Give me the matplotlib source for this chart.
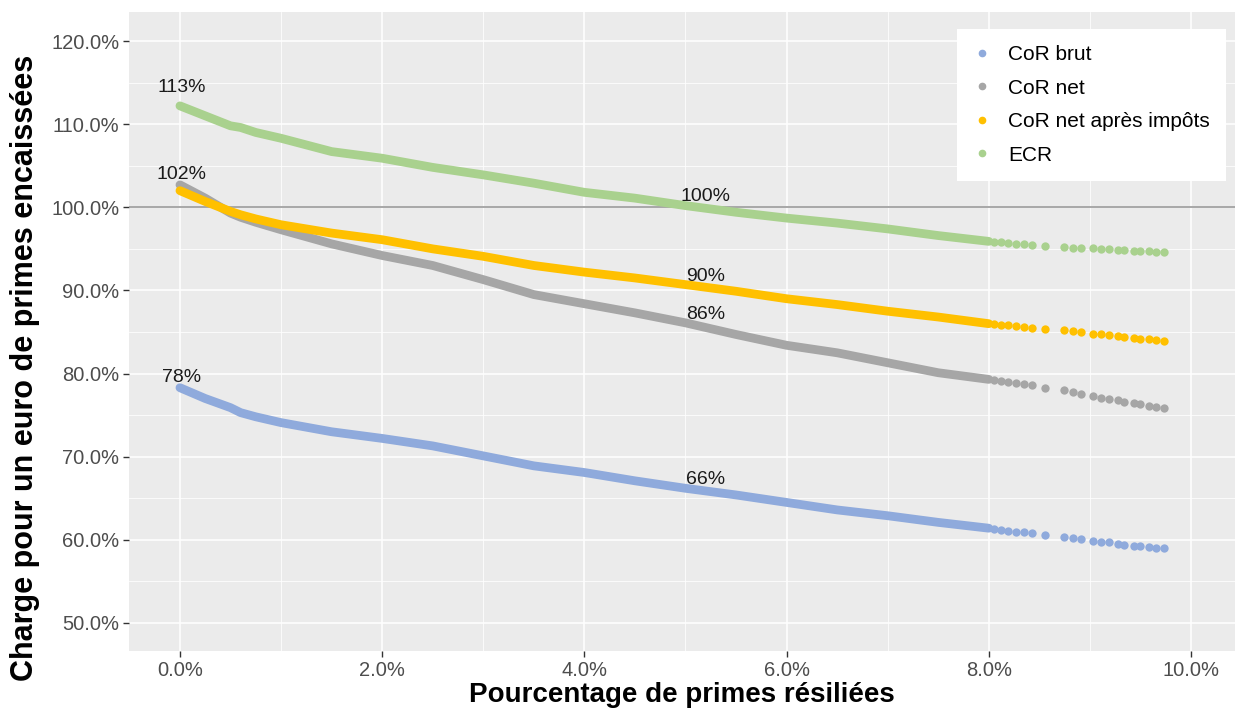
"""
charge per euro of premium vs share of cancelled premiums
"""
import matplotlib
matplotlib.use("Agg")
import matplotlib.pyplot as plt
from matplotlib.lines import Line2D
from matplotlib.ticker import FuncFormatter, MultipleLocator

plt.rcParams["font.family"] = ["Liberation Sans", "DejaVu Sans"]


################## data (in %)

# dense part of the cloud
x_dense = [0.0, 0.25, 0.5, 0.6, 0.75, 1.0, 1.5, 2.0, 2.5, 3.0, 3.5, 4.0,
           4.5, 5.0, 5.5, 6.0, 6.5, 7.0, 7.5, 8.0]
# isolated points at the end
x_tail = [8.05, 8.12, 8.19, 8.27, 8.35, 8.43, 8.56, 8.74, 8.83, 8.91,
          9.03, 9.11, 9.19, 9.28, 9.34, 9.44, 9.50, 9.58, 9.65, 9.73]

cor_brut_dense = [78.3, 77.0, 75.9, 75.3, 74.8, 74.1, 73.0, 72.2, 71.3, 70.1,
                  68.9, 68.1, 67.1, 66.2, 65.4, 64.5, 63.6, 62.9, 62.1, 61.4]
cor_brut_tail = [61.35, 61.2, 61.1, 61.0, 60.9, 60.8, 60.6, 60.4, 60.25, 60.1,
                 59.9, 59.8, 59.7, 59.5, 59.4, 59.3, 59.2, 59.1, 59.05, 59.0]

cor_net_dense = [102.7, 101.1, 99.3, 98.8, 98.2, 97.3, 95.6, 94.2, 93.0, 91.3,
                 89.5, 88.4, 87.3, 86.1, 84.7, 83.4, 82.5, 81.3, 80.1, 79.3]
cor_net_tail = [79.2, 79.1, 79.0, 78.85, 78.7, 78.6, 78.3, 78.0, 77.8, 77.6,
                77.3, 77.1, 77.0, 76.8, 76.6, 76.4, 76.3, 76.1, 76.0, 75.9]

cor_imp_dense = [102.0, 100.7, 99.5, 99.1, 98.6, 97.9, 96.9, 96.1, 95.0, 94.1,
                 93.0, 92.2, 91.5, 90.7, 89.9, 89.0, 88.3, 87.5, 86.8, 86.0]
cor_imp_tail = [85.95, 85.85, 85.8, 85.7, 85.6, 85.5, 85.4, 85.2, 85.1, 85.0,
                84.8, 84.7, 84.6, 84.5, 84.4, 84.3, 84.2, 84.1, 84.0, 83.9]

ecr_dense = [112.2, 111.0, 109.8, 109.6, 109.0, 108.3, 106.7, 105.9, 104.8, 103.9,
             102.9, 101.8, 101.1, 100.2, 99.4, 98.7, 98.1, 97.4, 96.6, 95.9]
ecr_tail = [95.85, 95.8, 95.7, 95.6, 95.55, 95.5, 95.4, 95.2, 95.15, 95.1,
            95.05, 95.0, 94.95, 94.9, 94.85, 94.8, 94.75, 94.7, 94.65, 94.6]

series_names = ["CoR brut", "CoR net", "CoR net après impôts", "ECR"]
series_dense = [cor_brut_dense, cor_net_dense, cor_imp_dense, ecr_dense]
series_tail = [cor_brut_tail, cor_net_tail, cor_imp_tail, ecr_tail]
series_colors = ["#8FAADC", "#A6A6A6", "#FFC000", "#A9D18E"]

# labels on the curves: (x, y, text)
label_x = [0.02, 0.02, 0.02, 5.2, 5.2, 5.2, 5.2]
label_y = [114.4, 103.9, 79.5, 101.3, 91.7, 87.1, 67.2]
label_txt = ["113%", "102%", "78%", "100%", "90%", "86%", "66%"]


########### plot

W, H = 1235, 710
fig = plt.figure(figsize=(W / 100, H / 100), dpi=100)
ax = fig.add_axes([129 / W, (H - 651) / H, (1235 - 129) / W, (651 - 12) / H])

ax.set_facecolor("#EBEBEB")
for sp in ax.spines.values():
    sp.set_visible(False)

ax.xaxis.set(major_locator=MultipleLocator(2), minor_locator=MultipleLocator(1))
ax.yaxis.set(major_locator=MultipleLocator(10), minor_locator=MultipleLocator(5))
ax.grid(which="major", color="white", lw=1.1)
ax.grid(which="minor", color="white", lw=0.55)
ax.set_axisbelow(True)

ax.axhline(100, color="#999999", lw=1.2, zorder=1.5)

for yd, yt, col in zip(series_dense, series_tail, series_colors):
    ax.plot(x_dense, yd, color=col, lw=6.3, solid_capstyle="round",
            solid_joinstyle="round", zorder=2)
    ax.scatter(x_tail, yt, s=36, color=col, linewidths=0, zorder=2)

for lx, ly, lt in zip(label_x, label_y, label_txt):
    ax.text(lx, ly, lt, fontsize=14, color="#1A1A1A", ha="center", va="center",
            zorder=3)

ax.set_xlim(-0.504, 10.435)
ax.set_ylim(46.63, 123.49)

ax.xaxis.set_major_formatter(FuncFormatter(lambda v, p: f"{v:.1f}%"))
ax.yaxis.set_major_formatter(FuncFormatter(lambda v, p: f"{v:.1f}%"))
ax.tick_params(which="major", length=4, width=1, color="#333333",
               labelcolor="#4D4D4D", labelsize=14.5, pad=3)
ax.tick_params(which="minor", length=0)

ax.set_xlabel("Pourcentage de primes résiliées", fontsize=20, fontweight="bold")
ax.set_ylabel("Charge pour un euro de primes encaissées", fontsize=22,
              fontweight="bold")
ax.xaxis.set_label_coords(0.5, -0.0485)
ax.yaxis.set_label_coords(-0.0805, 0.443)

handles = [Line2D([], [], ls="", marker="o", ms=4.5, color=c, mec=c)
           for c in series_colors]
leg = ax.legend(handles, series_names, loc="upper right",
                bbox_to_anchor=((1226 - 129) / 1106, (651 - 29) / 639),
                frameon=True, fancybox=False, framealpha=1, edgecolor="white",
                fontsize=15, handletextpad=0.87, labelspacing=0.7,
                borderpad=0.77, handlelength=0.8, borderaxespad=0)
leg.get_frame().set_linewidth(0)

############## export
fig.savefig("out.png", dpi=100)
plt.close(fig)
